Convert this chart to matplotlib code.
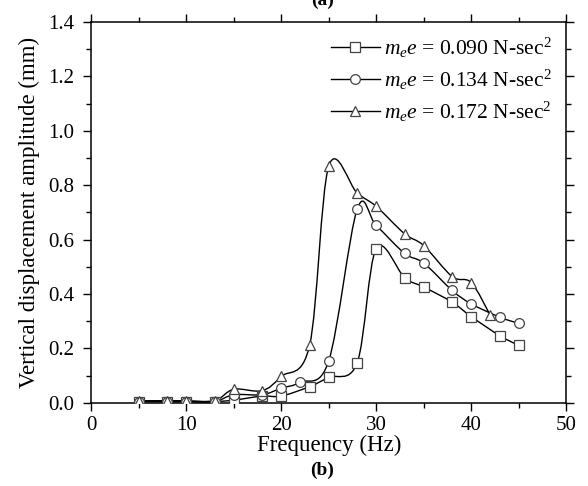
import numpy as np
import matplotlib
matplotlib.use("Agg")
from matplotlib import pyplot as plt
from matplotlib.path import Path
from matplotlib.patches import PathPatch
from matplotlib.lines import Line2D
from matplotlib.ticker import MultipleLocator, FormatStrFormatter

plt.rcParams["font.family"] = ["Liberation Serif", "DejaVu Serif"]
plt.rcParams["mathtext.fontset"] = "custom"
plt.rcParams["mathtext.rm"] = "Liberation Serif"
plt.rcParams["mathtext.it"] = "Liberation Serif:italic"

# data
freq_090 = [5, 8, 10, 13, 15, 18, 20, 23, 25, 28, 30, 33, 35, 38, 40, 43, 45]
amp_090 = [0.005, 0.005, 0.005, 0.005, 0.01, 0.025, 0.025, 0.06, 0.094, 0.148,
           0.567, 0.46, 0.426, 0.37, 0.317, 0.247, 0.211]

freq_134 = [5, 8, 10, 13, 15, 18, 20, 22, 25, 28, 30, 33, 35, 38, 40, 43, 45]
amp_134 = [0.005, 0.005, 0.005, 0.005, 0.03, 0.03, 0.054, 0.076, 0.154, 0.712,
           0.652, 0.549, 0.514, 0.413, 0.364, 0.315, 0.292]

freq_172 = [5, 8, 10, 13, 15, 18, 20, 23, 25, 28, 30, 33, 35, 38, 40, 42]
amp_172 = [0.008, 0.008, 0.008, 0.008, 0.05, 0.045, 0.097, 0.213, 0.869, 0.771,
           0.722, 0.621, 0.578, 0.464, 0.442, 0.322]

labels = [r"$m_e e$ = 0.090 N-sec$^2$",
          r"$m_e e$ = 0.134 N-sec$^2$",
          r"$m_e e$ = 0.172 N-sec$^2$"]
markers = ["s", "o", "^"]


def smooth_path(ax, x, y):
    # parametric catmull-rom in screen space, handed back as bezier in data space
    pts = ax.transData.transform(np.column_stack([x, y]))
    p = np.vstack([pts[0], pts, pts[-1]])
    verts = [pts[0]]
    codes = [Path.MOVETO]
    for i in range(1, len(p) - 2):
        c1 = p[i] + (p[i + 1] - p[i - 1]) / 6
        c2 = p[i + 1] - (p[i + 2] - p[i]) / 6
        verts += [c1, c2, p[i + 1]]
        codes += [Path.CURVE4] * 3
    verts = ax.transData.inverted().transform(np.array(verts))
    return Path(verts, codes)


fig = plt.figure(figsize=(5.88, 4.86), dpi=100)
ax = fig.add_axes([0.155, 0.171, 0.808, 0.784])
ax.set_xlim(0, 50)
ax.set_ylim(0, 1.4)

handles = []
for xs, ys, mk in zip([freq_090, freq_134, freq_172],
                      [amp_090, amp_134, amp_172], markers):
    ax.add_patch(PathPatch(smooth_path(ax, xs, ys), facecolor="none",
                           edgecolor="black", lw=1.0, zorder=2))
    ax.plot(xs, ys, linestyle="none", marker=mk, markersize=7,
            markerfacecolor="white", markeredgecolor="#444444",
            markeredgewidth=0.9, zorder=3)
    handles.append(Line2D([], [], color="black", lw=1.0, marker=mk,
                          markersize=7, markerfacecolor="white",
                          markeredgecolor="#444444", markeredgewidth=0.9))

ax.xaxis.set_major_locator(MultipleLocator(10))
ax.xaxis.set_minor_locator(MultipleLocator(5))
ax.yaxis.set_major_locator(MultipleLocator(0.2))
ax.yaxis.set_minor_locator(MultipleLocator(0.1))
ax.yaxis.set_major_formatter(FormatStrFormatter("%.1f"))
ax.tick_params(which="both", direction="out", top=True, right=True,
               labelsize=15, width=1)
ax.tick_params(which="major", length=6)
ax.tick_params(which="minor", length=3.5)
ax.tick_params(axis="y", which="major", pad=6)
for s in ax.spines.values():
    s.set_linewidth(1.1)

ax.set_xlabel("Frequency (Hz)", fontsize=16.5, labelpad=0)
ax.set_ylabel("Vertical displacement amplitude (mm)", fontsize=16.5,
              labelpad=6)

ax.legend(handles, labels, loc="upper right", frameon=False, fontsize=15.5,
          handlelength=2.3, handletextpad=0.2, labelspacing=0.36,
          borderaxespad=0.35, borderpad=0.3)

fig.text(0.548, 1.0, "(a)", fontsize=14, fontweight="bold",
         ha="center", va="center")
fig.text(0.548, 0.033, "(b)", fontsize=14, fontweight="bold",
         ha="center", va="center")

fig.savefig("out.png", dpi=100)
